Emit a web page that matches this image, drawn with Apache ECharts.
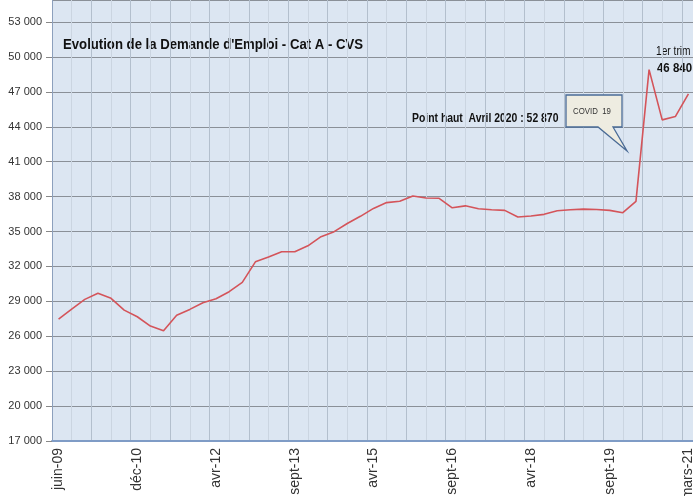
<!DOCTYPE html>
<html><head><meta charset="utf-8">
<script src="https://cdn.jsdelivr.net/npm/echarts@6/dist/echarts.min.js"></script>
<style>html,body{margin:0;padding:0;background:#fff}#c{width:693px;height:496px}</style>
</head><body><div id="c"></div>
<script>
// Quarterly categories (labels shown every 6th quarter)
const categories = ['juin-09','sept-09','déc-09','mars-10','juin-10','sept-10','déc-10','mars-11','juin-11','sept-11','nov-11','févr-12',
  'avr-12','juil-12','oct-12','janv-13','avr-13','juil-13','sept-13','déc-13','mars-14','juin-14','sept-14','déc-14',
  'avr-15','juil-15','oct-15','janv-16','avr-16','juil-16','sept-16','déc-16','mars-17','juin-17','sept-17','déc-17',
  'avr-18','juil-18','oct-18','janv-19','avr-19','juil-19','sept-19','déc-19','mars-20','juin-20','sept-20','déc-20','mars-21'];
// Demandeurs d'emploi Cat A - CVS
const demandes = [27480, 28340, 29170, 29690, 29260, 28250, 27680, 26880, 26480, 27800, 28310, 28880,
  29230, 29830, 30630, 32400, 32820, 33270, 33270, 33775, 34560, 34990, 35690, 36310,
  36990, 37490, 37600, 38050, 37890, 37860, 37040, 37210, 36960, 36870, 36820, 36250,
  36340, 36480, 36790, 36870, 36930, 36900, 36820, 36620, 37600, 48920, 44600, 44880, 46840];
const yTicks = [17000, 20000, 23000, 26000, 29000, 32000, 35000, 38000, 41000, 44000, 47000, 50000, 53000];

const FONT = '"Liberation Sans", Arial, sans-serif';
const chart = echarts.init(document.getElementById('c'), null, {renderer: 'canvas'});
const fmt = v => String(v).replace(/\B(?=(\d{3})+(?!\d))/g, ' ');
chart.setOption({
  animation: false,
  backgroundColor: '#ffffff',
  grid: {left: 52, right: -2, top: 0, bottom: 55, show: true, backgroundColor: '#dce6f2', borderWidth: 0,
    containLabel: false, outerBoundsMode: 'none'},
  xAxis: [{
    type: 'category', data: categories, boundaryGap: true,
    axisLine: {lineStyle: {color: '#7f9cc6', width: 2}},
    axisTick: {interval: 2, length: 5, lineStyle: {color: '#7f9cc6'}},
    axisLabel: {interval: 5, rotate: 90, fontSize: 14, color: '#333', margin: 7, fontFamily: FONT},
    splitLine: {show: false}
  }, {
    type: 'value', min: 0, max: categories.length, interval: 3, position: 'bottom',
    axisLine: {show: false}, axisTick: {show: false}, axisLabel: {show: false},
    splitLine: {show: true, lineStyle: {color: '#b3bfcd', width: 1}},
    minorTick: {show: false, splitNumber: 2},
    minorSplitLine: {show: true, lineStyle: {color: '#cbd5e1', width: 1}}
  }],
  yAxis: {
    type: 'value', min: yTicks[0], max: 54900, interval: 3000,
    axisLine: {show: true, lineStyle: {color: '#8ca0bd', width: 1}},
    axisTick: {show: true, length: 6, lineStyle: {color: '#888'}},
    axisLabel: {showMaxLabel: false, fontSize: 11, color: '#333', margin: 10, fontFamily: FONT,
      formatter: v => yTicks.includes(v) ? fmt(v) : ''},
    splitLine: {lineStyle: {color: '#8a9098', width: 1.2}}
  },
  series: [{
    type: 'line', data: demandes, xAxisIndex: 0, showSymbol: false, smooth: false, z: 5,
    lineStyle: {color: '#d4545a', width: 1.6}
  }],
  graphic: [
    {type: 'text', x: 63, y: 45, scaleX: 0.94, style: {text: "Evolution de la Demande d'Emploi - Cat A - CVS", font: 'bold 14px ' + FONT, fill: '#111', verticalAlign: 'middle'}},
    {type: 'text', x: 656, y: 52, scaleX: 0.85, style: {text: '1er trim', font: '12px ' + FONT, fill: '#111', verticalAlign: 'middle'}},
    {type: 'text', x: 657, y: 68, scaleX: 0.88, style: {text: '46 840', font: 'bold 13px ' + FONT, fill: '#111', verticalAlign: 'middle'}},
    {type: 'text', x: 412, y: 118, scaleX: 0.80, style: {text: 'Point haut  Avril 2020 : 52 870', font: 'bold 13px ' + FONT, fill: '#111', verticalAlign: 'middle'}},
    {type: 'polygon', shape: {points: [[566,95],[622,95],[622,127],[613,127],[627,151],[598,127],[566,127]]},
      style: {fill: '#eeece1', stroke: '#4a6b96', lineWidth: 1.3}, z: 10},
    {type: 'text', x: 592, y: 112, z: 11, scaleX: 0.92, style: {text: 'COVID  19', font: '8.5px ' + FONT, fill: '#333', align: 'center', verticalAlign: 'middle'}}
  ]
});
</script></body></html>
